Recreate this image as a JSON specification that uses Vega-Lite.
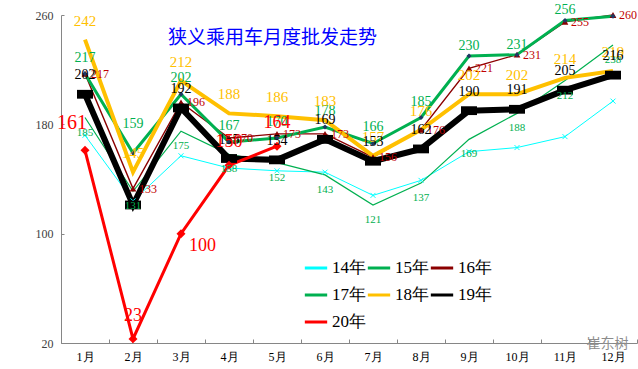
{
  "$schema": "https://vega.github.io/schema/vega-lite/v6.json",
  "width": 576,
  "height": 328,
  "autosize": "none",
  "padding": {"left": 61, "top": 15, "right": 1, "bottom": 26},
  "background": "white",
  "config": {"view": {"stroke": null}},
  "title": {"text": "狭义乘用车月度批发走势", "anchor": "start", "frame": "group", "offset": 0, "dx": 107, "dy": 54, "baseline": "middle", "color": "#0000FF", "fontSize": 19, "font": "Noto Sans CJK SC", "fontWeight": "normal"},
  "data": {"values": [
    {"s":"14年","m":"1月","v":172},{"s":"14年","m":"2月","v":124},{"s":"14年","m":"3月","v":157},{"s":"14年","m":"4月","v":148},{"s":"14年","m":"5月","v":146},{"s":"14年","m":"6月","v":145},{"s":"14年","m":"7月","v":128},{"s":"14年","m":"8月","v":139},{"s":"14年","m":"9月","v":160},{"s":"14年","m":"10月","v":163},{"s":"14年","m":"11月","v":171},{"s":"14年","m":"12月","v":197},
    {"s":"15年","m":"1月","v":185},{"s":"15年","m":"2月","v":131},{"s":"15年","m":"3月","v":175},{"s":"15年","m":"4月","v":158},{"s":"15年","m":"5月","v":152},{"s":"15年","m":"6月","v":143},{"s":"15年","m":"7月","v":121},{"s":"15年","m":"8月","v":137},{"s":"15年","m":"9月","v":169},{"s":"15年","m":"10月","v":188},{"s":"15年","m":"11月","v":212},{"s":"15年","m":"12月","v":238},
    {"s":"16年","m":"1月","v":217},{"s":"16年","m":"2月","v":133},{"s":"16年","m":"3月","v":196},{"s":"16年","m":"4月","v":170},{"s":"16年","m":"5月","v":173},{"s":"16年","m":"6月","v":173},{"s":"16年","m":"7月","v":156},{"s":"16年","m":"8月","v":176},{"s":"16年","m":"9月","v":221},{"s":"16年","m":"10月","v":231},{"s":"16年","m":"11月","v":255},{"s":"16年","m":"12月","v":260},
    {"s":"17年","m":"1月","v":217},{"s":"17年","m":"2月","v":159},{"s":"17年","m":"3月","v":202},{"s":"17年","m":"4月","v":167},{"s":"17年","m":"5月","v":170},{"s":"17年","m":"6月","v":178},{"s":"17年","m":"7月","v":166},{"s":"17年","m":"8月","v":185},{"s":"17年","m":"9月","v":230},{"s":"17年","m":"10月","v":231},{"s":"17年","m":"11月","v":256},{"s":"17年","m":"12月","v":259},
    {"s":"18年","m":"1月","v":242},{"s":"18年","m":"2月","v":145},{"s":"18年","m":"3月","v":212},{"s":"18年","m":"4月","v":188},{"s":"18年","m":"5月","v":186},{"s":"18年","m":"6月","v":183},{"s":"18年","m":"7月","v":157},{"s":"18年","m":"8月","v":176},{"s":"18年","m":"9月","v":202},{"s":"18年","m":"10月","v":202},{"s":"18年","m":"11月","v":214},{"s":"18年","m":"12月","v":219},
    {"s":"19年","m":"1月","v":202},{"s":"19年","m":"2月","v":121},{"s":"19年","m":"3月","v":192},{"s":"19年","m":"4月","v":155},{"s":"19年","m":"5月","v":154},{"s":"19年","m":"6月","v":169},{"s":"19年","m":"7月","v":153},{"s":"19年","m":"8月","v":162},{"s":"19年","m":"9月","v":190},{"s":"19年","m":"10月","v":191},{"s":"19年","m":"11月","v":205},{"s":"19年","m":"12月","v":216},
    {"s":"20年","m":"1月","v":161},{"s":"20年","m":"2月","v":23},{"s":"20年","m":"3月","v":100},{"s":"20年","m":"4月","v":150},{"s":"20年","m":"5月","v":164}
  ]},
  "encoding": {
    "x": {"field": "m", "type": "ordinal", "sort": ["1月","2月","3月","4月","5月","6月","7月","8月","9月","10月","11月","12月"],
      "scale": {"type": "band", "paddingInner": 0, "paddingOuter": 0},
      "axis": {"title": "崔东树", "titleColor": "#8c8c8c", "titleFont": "Noto Sans CJK SC", "titleFontSize": 14, "titleFontWeight": "normal", "titleX": 546, "titleY": 0, "titleAlign": "center", "titleBaseline": "middle",
        "labelAngle": 0, "labelFont": "Liberation Serif", "labelFontSize": 12, "labelColor": "#000000", "labelPadding": 12, "tickSize": -4, "tickBand": "extent", "tickColor": "#868686", "domainColor": "#868686", "grid": false}},
    "y": {"field": "v", "type": "quantitative", "scale": {"domain": [20, 260], "nice": false, "zero": false},
      "axis": {"title": null, "values": [20, 100, 180, 260], "labelFont": "Liberation Serif", "labelFontSize": 12, "labelColor": "#404040", "labelPadding": 11, "tickSize": -3, "tickColor": "#868686", "domainColor": "#868686", "grid": false}},
    "color": {"field": "s", "type": "nominal",
      "scale": {"domain": ["14年","15年","16年","17年","18年","19年","20年"], "range": ["#00FFFF","#00B050","#8B0000","#00B050","#FFC000","#000000","#FF0000"]},
      "legend": {"title": null, "orient": "none", "legendX": 242, "legendY": 240, "columns": 3, "direction": "horizontal", "symbolType": "stroke", "symbolSize": 500, "symbolStrokeWidth": 3, "labelFont": "Liberation Serif", "labelFontSize": 17, "labelColor": "#000000", "labelOffset": 3, "columnPadding": -10, "rowPadding": 6}}
  },
  "layer": [
    {"transform": [{"filter": "datum.s == '14年'"}], "mark": {"type": "line", "strokeWidth": 1}},
    {"transform": [{"filter": "datum.s == '15年'"}], "mark": {"type": "line", "strokeWidth": 1.2}},
    {"transform": [{"filter": "datum.s == '16年'"}], "mark": {"type": "line", "strokeWidth": 1.4}},
    {"transform": [{"filter": "datum.s == '17年'"}], "mark": {"type": "line", "strokeWidth": 3}},
    {"transform": [{"filter": "datum.s == '18年'"}], "mark": {"type": "line", "strokeWidth": 4}},
    {"transform": [{"filter": "datum.s == '19年'"}], "mark": {"type": "line", "strokeWidth": 6}},
    {"transform": [{"filter": "datum.s == '20年'"}], "mark": {"type": "line", "strokeWidth": 3}},
    {"transform": [{"filter": "datum.s == '14年'"}], "mark": {"type": "point", "shape": "M-1,-1L1,1M-1,1L1,-1", "filled": false, "strokeWidth": 1, "size": 25, "opacity": 1}},
    {"transform": [{"filter": "datum.s == '16年'"}], "mark": {"type": "point", "shape": "triangle-up", "filled": true, "size": 45, "opacity": 1}},
    {"transform": [{"filter": "datum.s == '17年'"}], "mark": {"type": "point", "shape": "diamond", "filled": true, "size": 25, "opacity": 1}, "encoding": {"color": {"value": "#1F3864"}}},
    {"transform": [{"filter": "datum.s == '19年'"}], "mark": {"type": "point", "shape": "M-1,-0.55H1V0.55H-1Z", "filled": true, "size": 256, "opacity": 1}},
    {"transform": [{"filter": "datum.s == '20年'"}], "mark": {"type": "point", "shape": "diamond", "filled": true, "size": 80, "opacity": 1}},
    {"transform": [{"filter": "datum.s == '15年'"}], "mark": {"type": "text", "dy": 15, "font": "Liberation Serif", "fontSize": 11}, "encoding": {"text": {"field": "v"}, "color": {"value": "#00B050"}}},
    {"transform": [{"filter": "datum.s == '16年'"}], "mark": {"type": "text", "align": "left", "dx": 6, "font": "Liberation Serif", "fontSize": 12}, "encoding": {"text": {"field": "v"}, "color": {"value": "#C00000"}}},
    {"transform": [{"filter": "datum.s == '17年' && indexof(['2月','9月','10月','11月','12月'], datum.m) < 0"}], "mark": {"type": "text", "dy": -16, "font": "Liberation Serif", "fontSize": 14}, "encoding": {"text": {"field": "v"}, "color": {"value": "#00B050"}}},
    {"transform": [{"filter": "datum.s == '17年' && datum.m == '2月'"}], "mark": {"type": "text", "dy": -29, "font": "Liberation Serif", "fontSize": 14}, "encoding": {"text": {"field": "v"}, "color": {"value": "#00B050"}}},
    {"transform": [{"filter": "datum.s == '17年' && indexof(['9月','10月','11月'], datum.m) >= 0"}], "mark": {"type": "text", "dy": -10, "font": "Liberation Serif", "fontSize": 14}, "encoding": {"text": {"field": "v"}, "color": {"value": "#00B050"}}},
    {"transform": [{"filter": "datum.s == '18年'"}], "mark": {"type": "text", "dy": -19, "font": "Liberation Serif", "fontSize": 15}, "encoding": {"text": {"field": "v"}, "color": {"value": "#FFC000"}}},
    {"transform": [{"filter": "datum.s == '19年' && datum.m != '2月'"}], "mark": {"type": "text", "dy": -19, "font": "Liberation Serif", "fontSize": 14}, "encoding": {"text": {"field": "v"}, "color": {"value": "#000000"}}},
    {"transform": [{"filter": "datum.s == '20年' && datum.m != '1月' && datum.m != '3月'"}], "mark": {"type": "text", "dy": -23, "font": "Liberation Serif", "fontSize": 18}, "encoding": {"text": {"field": "v"}, "color": {"value": "#FF0000"}}},
    {"transform": [{"filter": "datum.s == '20年' && datum.m == '1月'"}], "mark": {"type": "text", "dx": -13, "dy": -27, "font": "Liberation Serif", "fontSize": 20}, "encoding": {"text": {"field": "v"}, "color": {"value": "#FF0000"}}},
    {"transform": [{"filter": "datum.s == '20年' && datum.m == '3月'"}], "mark": {"type": "text", "align": "left", "dx": 8, "dy": 12, "font": "Liberation Serif", "fontSize": 18}, "encoding": {"text": {"field": "v"}, "color": {"value": "#FF0000"}}}
  ]
}
